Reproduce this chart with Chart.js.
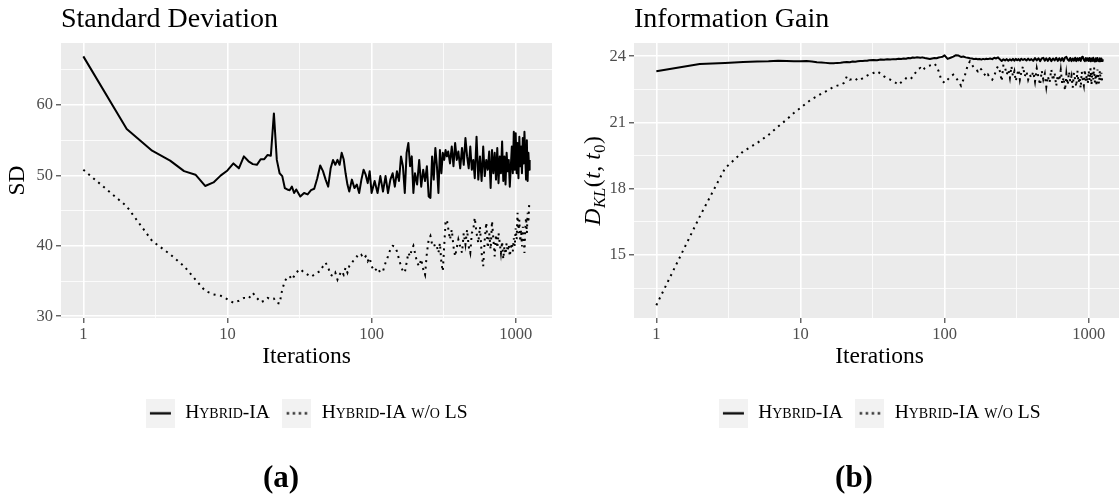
<!DOCTYPE html>
<html><head><meta charset="utf-8">
<script src="https://cdn.jsdelivr.net/npm/chart.js@4.4.1/dist/chart.umd.min.js"></script>
<style>
html,body{margin:0;padding:0;width:1119px;height:498px;overflow:hidden;background:#fff;}
#wrapA{position:absolute;left:0;top:0;width:562px;height:498px;}
#wrapB{position:absolute;left:573px;top:0;width:562px;height:498px;}
canvas{display:block;}
</style></head><body>
<div id="wrapA"><canvas id="cA" width="562" height="498"></canvas></div>
<div id="wrapB"><canvas id="cB" width="562" height="498"></canvas></div>
<script>
// ---------- DATA ----------
const iterations = [
 1,2,3,4,5,6,7,8,9,10,11,12,13,14,15,16,17,18,19,20,21,22,23,24,25,26,27,28,29,30,
 32,34,36,38,40,42,44,46,48,50,52,54,56,58,60,62,64,66,68,70,73,76,79,82,85,88,91,94,97,100,
 105,110,115,120,125,130,135,140,145,150,155,160,165,170,175,180,185,190,195,200,
 207,214,221,228,235,242,249,256,263,270,277,284,291,298,305,312,319,326,333,340,350,360,370,380,390,400,
 412,424,436,448,460,472,484,496,508,520,535,550,565,580,595,610,625,640,655,670,685,700,715,730,745,760,775,790,805,820,835,850,865,880,895,910,925,940,955,970,985,1000,
 1015,1030,1045,1060,1075,1090,1105,1120,1135,1150,1165,1180,1195,1210,1225,1240,1250
];
const sdHybrid = [
 66.9,56.6,53.5,52.1,50.6,50.1,48.5,49.0,50.0,50.7,51.7,51.0,52.7,52.0,51.6,51.5,52.3,52.3,52.9,52.8,58.8,52.2,50.3,49.9,48.2,48.0,47.9,48.4,47.5,48.0,
 47.0,47.5,47.3,47.9,48.1,49.6,51.4,50.6,49.4,48.4,51.0,52.2,51.5,52.2,51.5,53.2,52.3,50.3,48.7,47.7,49.4,48.2,48.7,47.5,49.4,50.8,50.1,48.9,50.6,47.5,
 49.2,47.5,49.9,47.7,49.9,47.5,49.4,50.3,48.4,50.6,49.2,52.7,51.3,47.5,53.2,54.6,51.3,52.7,47.5,50.3,
 48.7,52.2,48.4,50.8,49.2,51.3,47.0,46.8,52.7,49.4,53.9,51.3,47.5,53.6,50.3,53.2,52.2,53.6,52.7,53.4,51.7,54.1,51.3,54.6,52.2,53.4,
 51.0,53.9,51.5,55.3,52.7,51.0,54.1,50.8,52.2,49.6,55.5,49.4,52.7,49.2,54.1,49.9,52.2,50.8,53.4,48.2,53.6,50.3,53.2,49.4,53.9,48.9,52.7,50.3,54.8,49.2,52.7,48.7,53.2,50.6,52.2,48.4,51.3,54.1,50.3,56.2,50.8,56.0,
 50.3,54.6,49.6,55.5,51.3,54.1,50.3,55.3,51.7,56.2,52.7,49.4,55.0,49.2,53.2,50.8,52.2
];
const sdNoLS = [
 50.8,45.6,40.7,38.8,37.1,35.2,33.6,33.1,32.9,32.4,31.9,32.2,32.6,32.5,33.3,32.6,32.0,32.2,32.6,32.4,32.5,31.9,31.8,33.8,35.0,35.5,35.7,35.2,35.7,36.2,
 36.7,36.2,35.9,35.6,35.9,36.2,36.4,37.1,37.6,36.9,35.9,35.7,36.2,35.2,35.9,36.4,35.9,36.9,36.2,37.1,37.6,38.1,38.5,38.3,38.7,38.2,38.5,37.8,38.3,37.1,
 36.4,36.9,36.2,36.4,37.6,38.5,39.5,40.0,39.9,39.2,38.1,37.1,36.4,36.2,37.6,39.0,38.5,39.5,40.0,39.0,
 37.6,37.1,38.1,36.7,35.9,39.0,40.9,41.4,40.2,40.4,39.7,39.9,39.0,40.4,37.6,36.4,39.9,43.3,43.7,42.5,40.9,42.3,39.9,38.5,39.7,40.9,
 39.9,39.0,41.8,40.2,42.3,39.9,39.0,41.8,42.3,44.0,41.8,40.4,42.7,39.0,37.1,40.9,43.3,39.7,41.8,39.5,43.5,40.9,38.5,41.6,39.7,41.8,40.4,39.0,40.6,38.1,39.9,38.8,40.4,39.2,40.2,38.5,39.7,40.4,39.2,41.1,39.9,42.5,
 40.9,44.7,41.8,43.7,40.6,42.3,39.9,42.7,41.4,39.0,42.3,44.0,41.8,44.7,43.3,45.8,46.3
];
const igHybrid = [
 23.32,23.65,23.70,23.74,23.76,23.77,23.80,23.79,23.77,23.77,23.79,23.76,23.73,23.72,23.70,23.68,23.68,23.70,23.71,23.73,23.74,23.73,23.76,23.75,23.77,23.79,23.79,23.80,23.80,23.82,
 23.83,23.82,23.85,23.84,23.86,23.85,23.87,23.86,23.89,23.88,23.90,23.89,23.92,23.91,23.94,23.93,23.95,23.94,23.93,23.95,23.92,23.90,23.88,23.90,23.92,23.91,23.94,23.96,23.98,24.04,
 23.88,23.93,23.98,24.05,24.03,23.97,23.99,23.95,23.93,23.91,23.90,23.87,23.89,23.86,23.88,23.85,23.88,23.86,23.89,23.87,
 23.90,23.87,23.93,23.90,23.95,23.86,23.79,23.86,23.81,23.87,23.80,23.86,23.81,23.88,23.80,23.88,23.82,23.87,23.80,23.89,23.83,23.88,23.81,23.89,23.82,23.87,
 23.79,23.92,23.81,23.91,23.78,23.90,23.93,23.80,23.91,23.79,23.92,23.78,23.90,23.81,23.93,23.79,23.91,23.80,23.92,23.78,23.94,23.97,23.85,23.79,23.92,23.78,23.90,23.80,23.93,23.78,23.91,23.81,23.92,23.79,23.95,23.98,23.84,23.78,23.92,23.80,23.91,23.79,
 23.92,23.77,23.90,23.79,23.93,23.78,23.76,23.91,23.78,23.92,23.80,23.77,23.91,23.78,23.90,23.78,23.86
];
const igNoLS = [
 12.73,16.74,18.93,19.69,20.07,20.44,20.82,21.13,21.43,21.66,21.88,22.06,22.18,22.31,22.41,22.52,22.61,22.67,22.70,22.79,23.09,22.94,22.97,22.91,23.00,22.94,23.00,23.06,23.12,23.17,
 23.24,23.32,23.21,23.09,23.00,22.94,22.87,22.79,22.71,22.82,22.91,23.00,22.94,22.97,23.06,23.21,23.32,23.43,23.47,23.36,23.47,23.55,23.58,23.62,23.67,23.55,23.32,23.02,22.87,22.79,
 22.94,23.09,23.17,23.02,22.87,22.67,22.94,23.24,23.62,23.77,23.62,23.47,23.40,23.32,23.47,23.40,23.24,23.17,23.06,23.17,
 23.02,22.94,23.09,23.40,23.55,23.32,22.87,23.62,23.47,23.17,23.40,23.02,23.55,23.09,23.32,22.87,23.17,23.40,22.94,23.24,23.55,23.09,23.32,22.94,23.17,23.02,
 23.30,22.85,23.45,23.05,22.70,23.35,22.95,23.20,22.62,23.10,22.80,23.40,22.90,23.25,22.65,23.15,22.88,23.38,22.75,23.05,22.45,23.20,22.70,23.30,22.85,23.10,22.58,23.25,22.95,22.62,23.35,22.80,23.05,22.55,23.30,22.90,22.68,23.40,22.85,23.15,22.75,23.35,
 22.90,23.45,22.70,23.30,22.95,23.50,22.80,23.20,22.65,23.40,23.00,22.75,23.35,22.90,23.25,22.85,22.80
];
const seriesNames = ['Hybrid-IA', 'Hybrid-IA w/o LS'];
const panelTitles = ['Standard Deviation', 'Information Gain'];
const captions = ['(a)', '(b)'];
const xTitle = 'Iterations';
const sdTitle = 'SD';
const xMajorTicks = [1, 10, 100, 1000];
const xMinorTicks = [3.1623, 31.623, 316.23];
const sdMajorTicks = [30, 40, 50, 60];
const sdMinorTicks = [35, 45, 55, 65];
const igMajorTicks = [15, 18, 21, 24];
const igMinorTicks = [13.5, 16.5, 19.5, 22.5];
// y-axis label of panel (b): D_KL(t, t0)
const dklParts = [
  {t:'D', it:true, sub:false}, {t:'KL', it:true, sub:true}, {t:'(', it:false, sub:false},
  {t:'t', it:true, sub:false}, {t:',', it:false, sub:false}, {t:'\u2009', it:false, sub:false},
  {t:'t', it:true, sub:false}, {t:'0', it:false, sub:true}, {t:')', it:false, sub:false}
];

// ---------- STYLE ----------
const SERIF = "'Liberation Serif', 'Times New Roman', serif";
const PANEL_BG = '#EBEBEB';

function keyImage(dotted) {
  const c = document.createElement('canvas');
  c.width = 29; c.height = 29;
  const g = c.getContext('2d');
  g.fillStyle = '#F2F2F2'; g.fillRect(0, 0, 29, 29);
  g.strokeStyle = '#000'; g.lineWidth = 2.3; g.lineCap = 'butt';
  if (dotted) g.setLineDash([2, 4]);
  g.beginPath(); g.moveTo(dotted ? 4.5 : 4, 14.5); g.lineTo(25, 14.5); g.stroke();
  return c;
}
const keys = [keyImage(false), keyImage(true)];

const panelBg = {
  id: 'panelBg',
  beforeDraw(chart) {
    const {ctx, chartArea: a} = chart;
    ctx.save(); ctx.fillStyle = PANEL_BG;
    ctx.fillRect(a.left, a.top, a.right - a.left, a.bottom - a.top);
    ctx.restore();
  }
};

const dklLabel = {
  id: 'dklLabel',
  afterDraw(chart) {
    if (!chart.options.plugins.dklLabel || !chart.options.plugins.dklLabel.show) return;
    const {ctx, chartArea: a} = chart;
    const fnt = p => (p.it ? 'italic ' : '') + (p.sub ? 16.5 : 23.5) + 'px ' + SERIF;
    ctx.save();
    ctx.translate(19, (a.top + a.bottom) / 2);
    ctx.rotate(-Math.PI / 2);
    ctx.fillStyle = '#000'; ctx.textAlign = 'left'; ctx.textBaseline = 'alphabetic';
    let total = 0;
    dklParts.forEach(p => { ctx.font = fnt(p); total += ctx.measureText(p.t).width + 0.6; });
    let x = -total / 2;
    dklParts.forEach(p => {
      ctx.font = fnt(p);
      ctx.fillText(p.t, x, 8 + (p.sub ? 4.5 : 0));
      x += ctx.measureText(p.t).width + 0.6;
    });
    ctx.restore();
  }
};

function setTicks(major, minor) {
  return function(scale) {
    scale.ticks = major.concat(minor).sort((a, b) => a - b)
      .map(v => ({value: v, isMaj: major.includes(v)}));
  };
}
const gridOpts = {
  color: '#FFFFFF',
  lineWidth: c => (c.tick && c.tick.isMaj) ? 1.6 : 0.8,
  drawTicks: true,
  tickLength: 5,
  tickWidth: 1.1,
  tickColor: c => (c.tick && c.tick.isMaj) ? '#333333' : 'rgba(0,0,0,0)'
};
const tickFont = {family: SERIF, size: 16.5};
const tickCb = (v, i, t) => t[i].isMaj ? String(v) : '';
const pts = arr => iterations.map((x, i) => ({x: x, y: arr[i]}));

function makeChart(id, opt) {
  return new Chart(document.getElementById(id), {
    type: 'line',
    data: {
      datasets: [
        {label: seriesNames[0], data: pts(opt.solid), borderColor: '#000', borderWidth: 2,
         pointRadius: 0, tension: 0, fill: false, borderJoinStyle: 'round'},
        {label: seriesNames[1], data: pts(opt.dotted), borderColor: '#000', borderWidth: 2,
         borderDash: [2, 4.5], pointRadius: 0, tension: 0, fill: false}
      ]
    },
    options: {
      responsive: false, animation: false, events: [],
      layout: {padding: {left: 10, right: 10, top: 0, bottom: 0}},
      scales: {
        x: {
          type: 'logarithmic', min: 0.6998, max: 1786,
          afterBuildTicks: setTicks(xMajorTicks, xMinorTicks),
          afterFit: s => { s.height = 73.55; },
          ticks: {autoSkip: false, maxRotation: 0, minRotation: 0, padding: 2, color: '#4D4D4D',
                  font: tickFont, callback: tickCb},
          grid: gridOpts, border: {display: false},
          title: {display: true, text: xTitle, color: '#000', font: {family: SERIF, size: 23.5},
                  padding: {top: 0, bottom: 20.35}}
        },
        y: {
          type: 'linear', min: opt.ymin, max: opt.ymax,
          afterBuildTicks: setTicks(opt.major, opt.minor),
          afterFit: s => { s.width = 51; },
          ticks: {autoSkip: false, padding: 3, color: '#4D4D4D', font: tickFont, callback: tickCb},
          grid: gridOpts, border: {display: false},
          title: {display: !!opt.yTitle, text: opt.yTitle || '', color: '#000',
                  font: {family: SERIF, size: 23.5, lineHeight: 0.7}, padding: {top: 0, bottom: 0}}
        }
      },
      plugins: {
        title: {display: true, text: opt.title, align: 'start', fullSize: false, color: '#000',
                font: {family: SERIF, size: 28, weight: 'normal'}, padding: {top: 3.1, bottom: 6.3}},
        subtitle: {display: true, text: opt.caption, position: 'bottom', align: 'center', color: '#000',
                   font: {family: SERIF, size: 31, weight: 'bold'}, padding: {top: 26.85, bottom: 0.9}},
        legend: {
          display: true, position: 'bottom', fullSize: false, align: 'center',
          labels: {
            usePointStyle: true, pointStyleWidth: 30, padding: 12, color: '#000',
            font: {family: SERIF, size: 19.5, weight: 'small-caps'},
            generateLabels: chart => chart.data.datasets.map((d, i) => ({
              text: d.label, pointStyle: keys[i], datasetIndex: i, hidden: false,
              lineWidth: 0, strokeStyle: 'rgba(0,0,0,0)', fillStyle: 'rgba(0,0,0,0)', fontColor: '#000'
            }))
          }
        },
        tooltip: {enabled: false},
        dklLabel: {show: !!opt.dkl}
      }
    },
    plugins: [panelBg, dklLabel]
  });
}

makeChart('cA', {solid: sdHybrid, dotted: sdNoLS, ymin: 29.75, ymax: 68.8,
  major: sdMajorTicks, minor: sdMinorTicks, yTitle: sdTitle, title: panelTitles[0], caption: captions[0]});
makeChart('cB', {solid: igHybrid, dotted: igNoLS, ymin: 12.15, ymax: 24.6,
  major: igMajorTicks, minor: igMinorTicks, yTitle: null, dkl: true, title: panelTitles[1], caption: captions[1]});
</script>
</body></html>
